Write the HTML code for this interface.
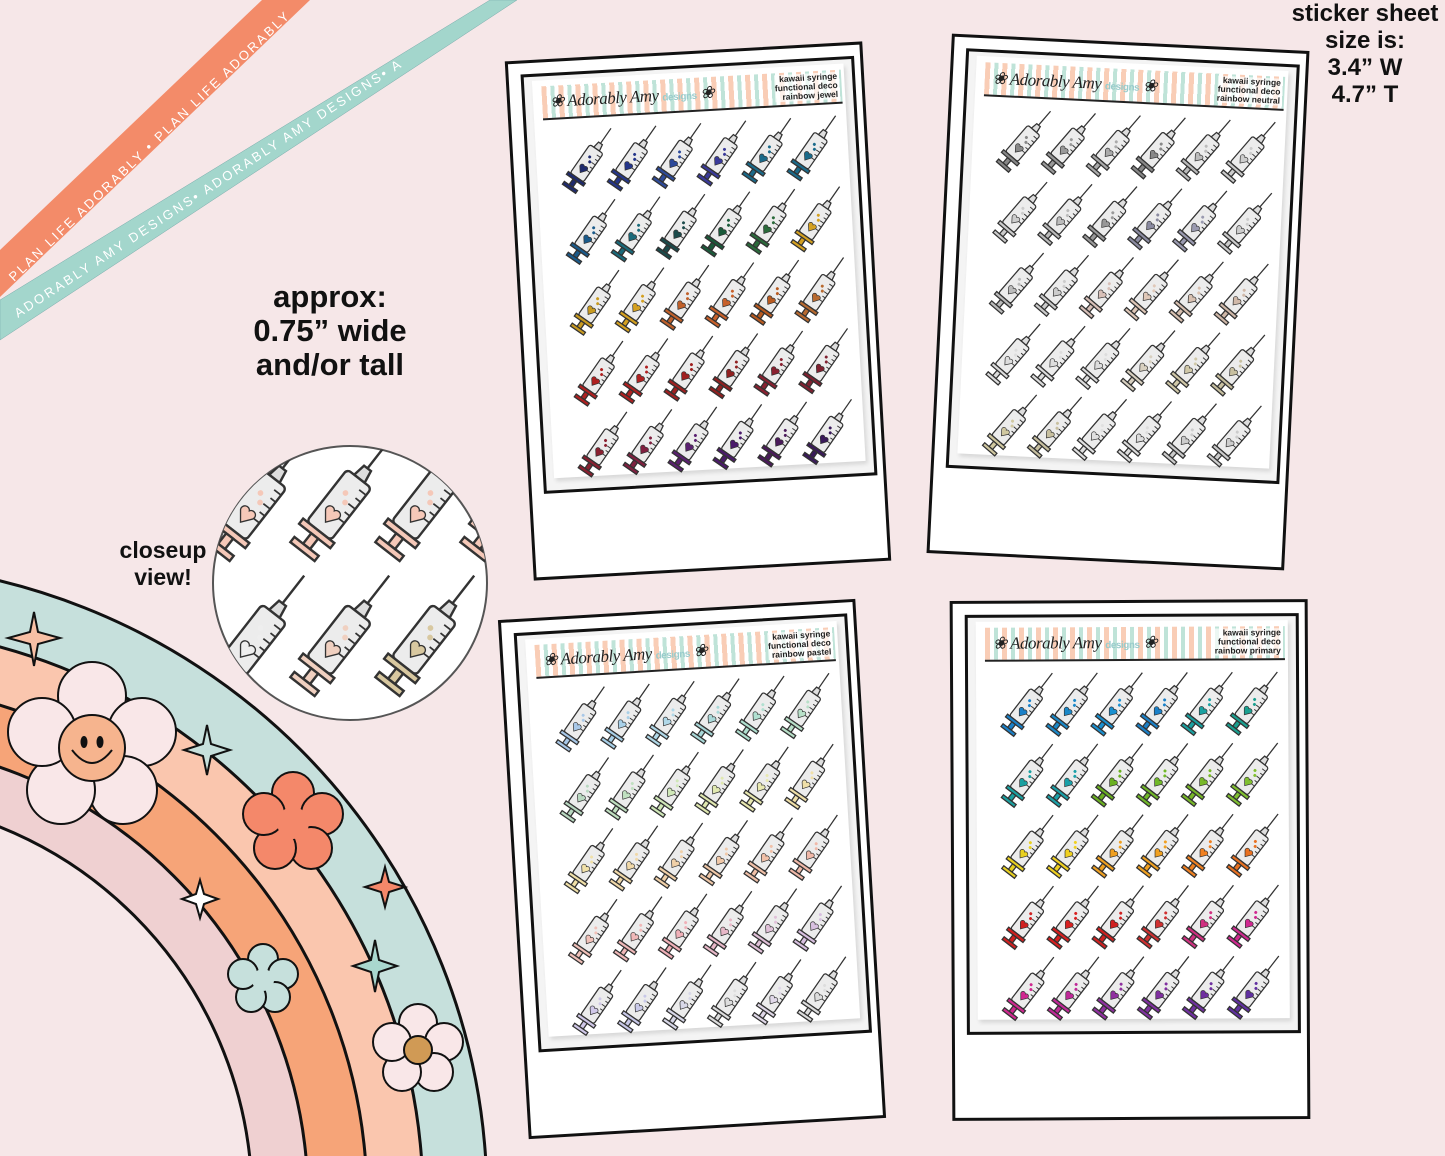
<!DOCTYPE html>
<html><head><meta charset="utf-8">
<style>
html,body{margin:0;padding:0;overflow:hidden}
body{width:1445px;height:1156px;background:#f6e7e8;position:relative;overflow:hidden;font-family:"Liberation Sans",sans-serif}
.sheet{position:absolute;width:358px;height:520px;border:3px solid #111;background:#fff;box-sizing:border-box}
.inner{position:absolute;left:12px;top:11px;width:334px;height:420px;border:3px solid #111;box-sizing:border-box;background:#f4f4f4}
.paper{position:absolute;left:8px;top:4px;width:312px;height:398px;background:#fff;box-shadow:2px 3px 4px rgba(0,0,0,.12)}
.hdr{position:absolute;left:9px;top:6px;width:300px;height:32px;border-bottom:2px solid #222;
background:repeating-linear-gradient(90deg,#f9cdb6 0 5px,#fff 5px 9px,#bfe3d8 9px 13px,#fff 13px 17px)}
.logo{position:absolute;left:8px;top:6px;font:italic 17px "Liberation Serif",serif;color:#222;letter-spacing:-.5px}
.logo span{font:bold 10px "Liberation Sans",sans-serif;color:#9cc;font-style:normal}
.ht{position:absolute;right:4px;top:2px;font:bold 8.5px/9px "Liberation Sans",sans-serif;text-align:right;color:#222;background:rgba(255,255,255,.7)}
.grid{position:absolute;left:-8px;top:0px}
.big{position:absolute;font-weight:bold;color:#111;text-align:center}
</style></head><body>

<svg width="1445" height="1156" style="position:absolute;left:0;top:0">
 <!-- ribbons -->
 <polygon points="0,250 262,0 310,0 0,297" fill="#f38b69"/>
 <polygon points="0,300 490,0 517,0 0,340" fill="#a3d6cc" stroke="#7aa" stroke-width="0.5"/>
 <text transform="translate(14,282) rotate(-43.8)" font-family="Liberation Sans" font-size="13" fill="#fff" letter-spacing="2.5">PLAN LIFE ADORABLY • PLAN LIFE ADORABLY</text>
 <text transform="translate(18,318) rotate(-33.2)" font-family="Liberation Sans" font-size="13" fill="#fff" letter-spacing="2.5">ADORABLY AMY DESIGNS• ADORABLY AMY DESIGNS• A</text>
 <!-- rainbow -->
 <g stroke="#111" stroke-width="3">
  <circle cx="-150" cy="1200" r="637" fill="#c6e0dc"/>
  <circle cx="-150" cy="1200" r="573" fill="#fac6ae"/>
  <circle cx="-150" cy="1200" r="517" fill="#f6a478"/>
  <circle cx="-150" cy="1200" r="458" fill="#efd0d1"/>
  <circle cx="-150" cy="1200" r="402" fill="#f6e7e8"/>
 </g>
 <!-- flowers -->
 <g stroke="#111" stroke-width="2">
  <g transform="translate(92,748)" fill="#f9e7e8">
   <circle cx="0" cy="-52" r="34"/><circle cx="50" cy="-16" r="34"/><circle cx="31" cy="42" r="34"/><circle cx="-31" cy="42" r="34"/><circle cx="-50" cy="-16" r="34"/>
   <circle r="33" fill="#f6b48e"/>
   <ellipse cx="-8" cy="-6" rx="2.5" ry="5" fill="#111"/><ellipse cx="8" cy="-6" rx="2.5" ry="5" fill="#111"/>
   <path d="M-20,2 Q0,28 20,2" fill="none"/>
  </g>
  <g transform="translate(293,823)" fill="#f4886a">
   <circle cx="0" cy="-30" r="21"/><circle cx="29" cy="-9" r="21"/><circle cx="18" cy="25" r="21"/><circle cx="-18" cy="25" r="21"/><circle cx="-29" cy="-9" r="21"/>
   <circle r="16" stroke="none"/>
  </g>
  <g transform="translate(263,980)" fill="#c6e0dc">
   <circle cx="0" cy="-21" r="15"/><circle cx="20" cy="-6" r="15"/><circle cx="12" cy="17" r="15"/><circle cx="-12" cy="17" r="15"/><circle cx="-20" cy="-6" r="15"/>
   <circle r="11" stroke="none"/>
  </g>
  <g transform="translate(418,1050)" fill="#f9e7e8">
   <circle cx="0" cy="-27" r="19"/><circle cx="26" cy="-8" r="19"/><circle cx="16" cy="22" r="19"/><circle cx="-16" cy="22" r="19"/><circle cx="-26" cy="-8" r="19"/>
   <circle r="14" fill="#d09a55"/>
  </g>
  <path d="M34,612 L38,632 L60,638 L38,644 L34,666 L30,644 L8,638 L30,632Z" fill="#f8c0a5"/>
  <path d="M207,725 L211,744 L230,750 L211,756 L207,775 L203,756 L184,750 L203,744Z" fill="#c6e0dc"/>
  <path d="M385,867 L389,882 L405,887 L389,892 L385,907 L381,892 L365,887 L381,882Z" fill="#f4886a"/>
  <path d="M200,880 L204,894 L218,899 L204,904 L200,918 L196,904 L182,899 L196,894Z" fill="#fff"/>
  <path d="M375,940 L379,960 L397,966 L379,972 L375,992 L371,972 L353,966 L371,960Z" fill="#a9d7ce"/>
 </g>
 <!-- closeup circle -->
 <defs><clipPath id="cc"><circle cx="350" cy="583" r="137"/></clipPath></defs>
 <circle cx="350" cy="583" r="137" fill="#fff" stroke="#555" stroke-width="2"/>
 <g id="closeup" clip-path="url(#cc)"></g>
</svg>

<div class="big" style="left:200px;top:280px;width:260px;font-size:31px;line-height:34px;font-weight:600">approx:<br>0.75” wide<br>and/or tall</div>
<div class="big" style="left:100px;top:537px;width:126px;font-size:23px;line-height:27px;font-weight:600">closeup<br>view!</div>
<div class="big" style="left:1280px;top:0px;width:170px;font-size:24px;line-height:27px;font-weight:600">sticker sheet<br>size is:<br>3.4” W<br>4.7” T</div>

<div class="sheet" style="left:519px;top:51px;transform:rotate(-3.2deg)"><div class="inner"><div class="paper"><div class="hdr"><div class="logo">❀ Adorably Amy <span>designs</span> ❀</div><div class="ht">kawaii syringe<br>functional deco<br>rainbow jewel</div></div><svg class="grid" id="g1" width="330" height="400"></svg></div></div></div>
<div class="sheet" style="left:939px;top:42px;transform:rotate(2.8deg)"><div class="inner"><div class="paper"><div class="hdr"><div class="logo">❀ Adorably Amy <span>designs</span> ❀</div><div class="ht">kawaii syringe<br>functional deco<br>rainbow neutral</div></div><svg class="grid" id="g2" width="330" height="400"></svg></div></div></div>
<div class="sheet" style="left:513px;top:609px;transform:rotate(-3.4deg)"><div class="inner"><div class="paper"><div class="hdr"><div class="logo">❀ Adorably Amy <span>designs</span> ❀</div><div class="ht">kawaii syringe<br>functional deco<br>rainbow pastel</div></div><svg class="grid" id="g3" width="330" height="400"></svg></div></div></div>
<div class="sheet" style="left:951px;top:600px;transform:rotate(-0.3deg)"><div class="inner"><div class="paper"><div class="hdr"><div class="logo">❀ Adorably Amy <span>designs</span> ❀</div><div class="ht">kawaii syringe<br>functional deco<br>rainbow primary</div></div><svg class="grid" id="g4" width="330" height="400"></svg></div></div></div>

<script>
function syr(x,y,s,c){
 return `<g transform="translate(${x},${y}) rotate(38) scale(${s})" stroke="#333" stroke-width="1.1">
 <line x1="0" y1="-40" x2="0" y2="-24"/>
 <path d="M-3,-18 L-2,-24 L2,-24 L3,-18Z" fill="#ddd"/>
 <rect x="-7" y="-18" width="14" height="30" rx="2" fill="#ececec"/>
 <path d="M3,-14h4M4,-10h3M3,-6h4M4,-2h3M3,2h4" stroke-width="0.8"/>
 <circle cx="-1" cy="-9" r="1.3" fill="${c}" stroke="none"/><circle cx="1.5" cy="-5.5" r="1.3" fill="${c}" stroke="none"/>
 <path d="M0,7 L-3.5,2.5 A2,2 0 0 1 0,0.5 A2,2 0 0 1 3.5,2.5Z" fill="${c}" stroke-width="0.6"/>
 <rect x="-9" y="12" width="18" height="3" fill="${c}"/>
 <rect x="-2" y="15" width="4" height="6" fill="${c}"/>
 <rect x="-7" y="21" width="14" height="3" fill="${c}"/></g>`;
}
const pal={
g1:["#1e2a6e","#24358a","#2d4a9a","#3a3a9a","#1a6a8a","#1a6a8a","#1a5a8a","#1a6a7a","#1a4a4a","#1a5a3a","#2a6a3a","#d4a020","#c89a20","#d4a020","#c0602a","#c8602a","#b85a20","#b86a30","#b02020","#b02020","#a02020","#902020","#8a2030","#802030","#8a2030","#802040","#5a2070","#4a1a6a","#4a1a5a","#3a1a5a"],
g2:["#888","#999","#aaa","#888","#bbb","#ccc","#ccc","#bbb","#999","#8a8aa0","#9a9ab0","#ccc","#bbb","#ccc","#d8c0b8","#e0c8b8","#d8c0b0","#d0b8a8","#ddd","#ddd","#ddd","#d8d0c0","#d0c8a8","#c8c0a0","#d0c8a0","#c8c0a0","#e0e0e0","#ddd","#ccc","#ccc"],
g3:["#a8c8e8","#a8d0e8","#b0d8e8","#a8d8d8","#b0e0d0","#b8e0c8","#b8d8c0","#c0e0c0","#d0e8b8","#e0e8b0","#e8e8b0","#f0e0a8","#f0e0a8","#f0d8a8","#f0d0a8","#f0c8a8","#f0c0a8","#f0b8a8","#f0c0b8","#f0b8b8","#f0b0b8","#e8b8c8","#e0c0d8","#d8c0e0","#d0c8e8","#c8c8e8","#d8d8e8","#ddd","#e0d8e8","#ddd"],
g4:["#1a80c8","#1a88c8","#1a90d0","#1a80c8","#1aa0a0","#1aa090","#1aa0a0","#1aa0a8","#6ab020","#70b828","#78b828","#80c030","#e8d020","#f0d020","#f0a020","#f0a020","#f08020","#e87020","#d02020","#d82020","#d02020","#d03030","#d03080","#d02890","#d02890","#c02898","#9030a0","#8030a0","#7030a0","#6030a0"]};
for(const id in pal){const g=document.getElementById(id);let h="";const c=pal[id];
 for(let r=0;r<5;r++)for(let k=0;k<6;k++)h+=syr(56+k*45,88+r*71,1.15,c[r*6+k]);g.innerHTML=h;}
let ch="";
[[250,510,"#f5c8b8"],[335,510,"#f5c8b8"],[420,510,"#f5c8b8"],[505,510,"#f5c8b8"],[250,645,"#eee"],[335,645,"#f0d0c0"],[420,645,"#d8c8a0"]].forEach(a=>ch+=syr(a[0],a[1],2.2,a[2]));
document.getElementById("closeup").innerHTML=ch;
</script>
</body></html>
